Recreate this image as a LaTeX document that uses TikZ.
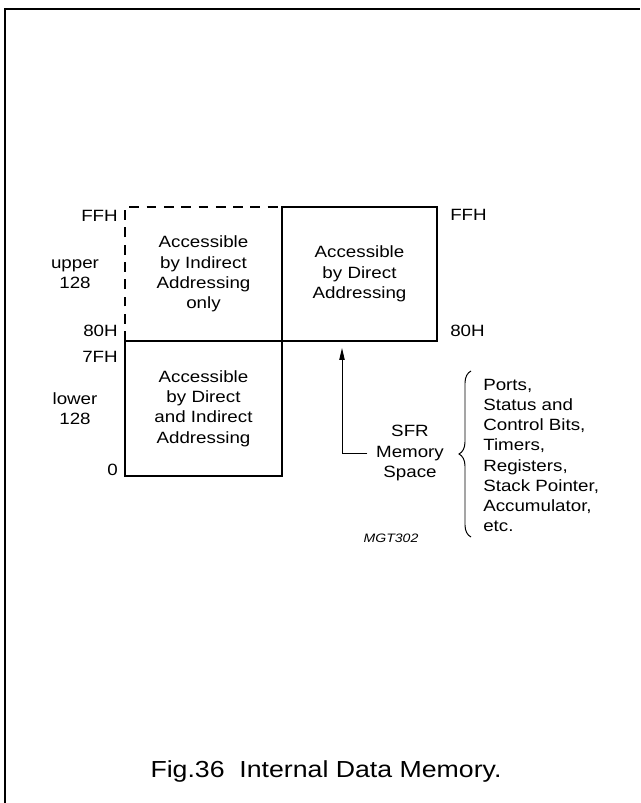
\documentclass[tikz,border=0pt]{standalone}
\usepackage{fontspec}
\setmainfont{Liberation Sans}[FakeStretch=1.15]
\usetikzlibrary{arrows.meta,decorations.pathreplacing}

\begin{document}
\begin{tikzpicture}[
  x=0.025cm, y=-0.025cm,
  txt/.style={font=\fontsize{11.6}{14.4}\selectfont, align=center, inner sep=0pt},
  lbl/.style={txt},
  box/.style={txt, draw, line width=1.6pt, outer sep=0pt, minimum width=3.925cm, minimum height=3.35cm},
  dline/.style={line width=1.6pt, dash pattern=on 7pt off 5.3pt},
  arr/.style={-{Triangle[length=8.5pt,width=3.8pt]}, line width=0.7pt},
  brc/.style={decorate, decoration={brace, amplitude=0.3cm}, line width=0.7pt},
  frame/.style={line width=1.4pt}
]
\useasboundingbox (0,0) rectangle (640,803);
\draw[frame] (5,803) |- (640,9);

\node[box, draw=none] (indirect) at (203.5,274) {Accessible\\by Indirect\\Addressing\\only};
\node[box, minimum width=3.875cm] (direct) at (359.5,274) {Accessible\\by Direct\\Addressing};
\node[box, minimum height=3.375cm] (both) at (203.5,408.5) {Accessible\\by Direct\\and Indirect\\Addressing};
\draw[dline] (indirect.south west) |- (indirect.north east);

\node[lbl, anchor=east] (ffhl) at (118,216) {FFH};
\node[lbl] (upper) at (75,274) {upper\\128};
\node[lbl, anchor=east] (h80l) at (118,331) {80H};
\node[lbl, anchor=east] (h7f) at (118,357) {7FH};
\node[lbl] (lower) at (75,408.5) {lower\\128};
\node[lbl, anchor=east] (zero) at (118,470) {0};
\node[lbl, anchor=west] (ffhr) at (450,215) {FFH};
\node[lbl, anchor=west] (h80r) at (450,331) {80H};

\node[lbl, inner xsep=6pt] (sfr) at (410,453) {SFR\\Memory\\Space};
\coordinate (tip) at (342,348);
\draw[arr] (sfr.west) -| (tip);

\node[lbl, align=left, anchor=west] (sfrlist) at (483,455.5) {Ports,\\Status and\\Control Bits,\\Timers,\\Registers,\\Stack Pointer,\\Accumulator,\\etc.};
\draw[brc] (471,537) -- (471,371);

\node[font=\fontsize{8.7}{10}\selectfont\itshape, inner sep=0pt] (mgt) at (391,538) {MGT302};
\node[font=\fontsize{16.5}{19}\selectfont, inner sep=0pt, anchor=base] (caption) at (326,777) {Fig.36\ \ Internal Data Memory.};
\end{tikzpicture}
\end{document}
